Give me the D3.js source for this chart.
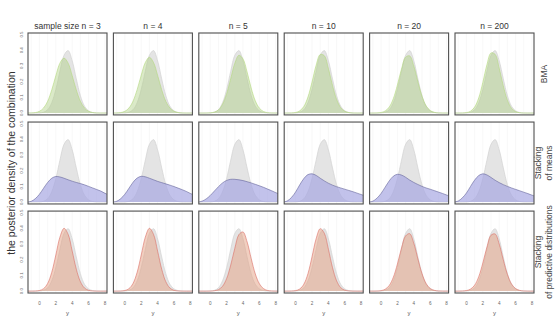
<!DOCTYPE html>
<html>
<head>
<meta charset="utf-8">
<script src="https://cdn.jsdelivr.net/npm/d3@7"></script>
<style>
  body { margin: 0; background: #fff; }
  svg { display: block; font-family: "Liberation Sans", Arial, Helvetica, sans-serif; }
</style>
</head>
<body>
<div id="chart"></div>
<script>
// grid of y values every density is read on //
const xs = [-1.5, -1, -0.5, 0, 0.5, 1, 1.5, 2, 2.5, 3, 3.5, 4, 4.5, 5, 5.5, 6, 6.5, 7, 7.5, 8, 8.5];

const columns = ["sample size n = 3", "n = 4", "n = 5", "n = 10", "n = 20", "n = 200"];
const rows = [["BMA"], ["Stacking", "of means"], ["Stacking", "of predictive distributions"]];
const xTicks = [0, 2, 4, 6, 8];
const yTicks = [0, 0.1, 0.2, 0.3, 0.4, 0.5];

// the true density, same in every panel (grey)
const truth = [0, 0, 0, 0.001, 0.005, 0.021, 0.066, 0.15, 0.267, 0.368, 0.398, 0.333, 0.218, 0.111, 0.044, 0.014, 0.0035, 0.0007, 0, 0, 0];

// BMA
const bma = [
  [0, 0.0007, 0.003, 0.011, 0.032, 0.075, 0.147, 0.238, 0.318, 0.35, 0.318, 0.238, 0.147, 0.075, 0.032, 0.011, 0.003, 0.0007, 0.0001, 0, 0],
  [0, 0.0007, 0.003, 0.011, 0.032, 0.076, 0.149, 0.241, 0.322, 0.355, 0.322, 0.24, 0.148, 0.075, 0.032, 0.011, 0.003, 0.0007, 0.0001, 0, 0],
  [0, 0, 0.0003, 0.0014, 0.006, 0.02, 0.056, 0.123, 0.22, 0.317, 0.368, 0.345, 0.261, 0.159, 0.078, 0.031, 0.01, 0.0026, 0.0006, 0.0001, 0],
  [0, 0, 0.0008, 0.0036, 0.014, 0.042, 0.102, 0.197, 0.304, 0.373, 0.365, 0.284, 0.176, 0.087, 0.034, 0.011, 0.0027, 0.0005, 0, 0, 0],
  [0, 0, 0.0008, 0.0035, 0.013, 0.038, 0.092, 0.179, 0.281, 0.356, 0.364, 0.3, 0.199, 0.107, 0.046, 0.016, 0.0046, 0.001, 0.0002, 0, 0],
  [0, 0, 0.0005, 0.0028, 0.012, 0.038, 0.097, 0.195, 0.308, 0.383, 0.374, 0.286, 0.173, 0.082, 0.031, 0.009, 0.002, 0.0004, 0, 0, 0]
];

// stacking of means
const stackMeans = [
  [0, 0.005, 0.022, 0.05, 0.088, 0.125, 0.152, 0.163, 0.16, 0.152, 0.142, 0.133, 0.125, 0.118, 0.11, 0.1, 0.09, 0.08, 0.07, 0.056, 0.045],
  [0, 0.005, 0.022, 0.05, 0.088, 0.126, 0.153, 0.164, 0.161, 0.152, 0.142, 0.132, 0.124, 0.116, 0.108, 0.099, 0.089, 0.079, 0.068, 0.055, 0.044],
  [0, 0.006, 0.02, 0.042, 0.07, 0.098, 0.122, 0.138, 0.145, 0.145, 0.142, 0.137, 0.13, 0.122, 0.113, 0.104, 0.094, 0.083, 0.072, 0.06, 0.05],
  [0, 0.008, 0.03, 0.065, 0.11, 0.15, 0.175, 0.18, 0.17, 0.152, 0.135, 0.12, 0.108, 0.098, 0.09, 0.082, 0.074, 0.066, 0.057, 0.048, 0.04],
  [0, 0.006, 0.025, 0.055, 0.095, 0.135, 0.165, 0.177, 0.172, 0.158, 0.14, 0.125, 0.112, 0.1, 0.09, 0.082, 0.073, 0.064, 0.055, 0.045, 0.037],
  [0, 0.007, 0.027, 0.058, 0.1, 0.14, 0.169, 0.18, 0.173, 0.157, 0.139, 0.124, 0.111, 0.1, 0.09, 0.081, 0.072, 0.063, 0.054, 0.044, 0.036]
];

// stacking of predictive distributions
const stackPred = [
  [0, 0, 0.0007, 0.0038, 0.0155, 0.049, 0.12, 0.23, 0.344, 0.4, 0.362, 0.255, 0.14, 0.06, 0.02, 0.005, 0.001, 0.0002, 0, 0, 0],
  [0, 0, 0.0007, 0.0038, 0.0155, 0.049, 0.12, 0.23, 0.344, 0.4, 0.362, 0.255, 0.14, 0.06, 0.02, 0.005, 0.001, 0.0002, 0, 0, 0],
  [0, 0, 0, 0.0005, 0.0023, 0.0094, 0.031, 0.08, 0.166, 0.273, 0.36, 0.377, 0.314, 0.208, 0.11, 0.047, 0.016, 0.004, 0.001, 0, 0],
  [0, 0, 0.0007, 0.0033, 0.0136, 0.044, 0.111, 0.219, 0.334, 0.398, 0.369, 0.267, 0.15, 0.066, 0.022, 0.006, 0.0012, 0.0002, 0, 0, 0],
  [0, 0, 0.0006, 0.003, 0.012, 0.036, 0.088, 0.173, 0.275, 0.352, 0.366, 0.305, 0.205, 0.112, 0.049, 0.017, 0.005, 0.001, 0.0002, 0, 0],
  [0, 0, 0.0008, 0.0035, 0.013, 0.038, 0.092, 0.179, 0.281, 0.356, 0.364, 0.3, 0.199, 0.107, 0.046, 0.016, 0.0046, 0.001, 0.0002, 0, 0]
];

const series = [bma, stackMeans, stackPred];
const fills = ["rgba(170, 205, 125, 0.42)", "rgba(165, 165, 225, 0.68)", "rgba(228, 160, 130, 0.5)"];
const strokes = ["#b3d87e", "#65659a", "#db6e66"];

const W = 558, H = 322;

const svg = d3.select("#chart").append("svg")
  .attr("width", W)
  .attr("height", H);

// panel layout //
const col = d3.scaleBand().domain(d3.range(columns.length)).range([28, 534]).paddingInner(0.075);
const row = d3.scaleBand().domain(d3.range(rows.length)).range([33, 293]).paddingInner(0.08);
const pw = col.bandwidth(), ph = row.bandwidth();

const x = d3.scaleLinear().domain([-1.4, 8.25]).range([0, pw]);
const y = d3.scaleLinear().domain([-0.012, 0.51]).range([ph, 0]);

const area = d3.area()
  .x((d, i) => x(xs[i]))
  .y0(y(0))
  .y1(d => y(d))
  .curve(d3.curveCatmullRom.alpha(0.5));
const line = d3.line()
  .x((d, i) => x(xs[i]))
  .y(d => y(d))
  .curve(d3.curveCatmullRom.alpha(0.5));

svg.append("defs").append("clipPath")
  .attr("id", "clip")
  .append("rect")
  .attr("width", pw)
  .attr("height", ph);

rows.forEach((r, j) => {
  columns.forEach((c, i) => {
    const g = svg.append("g")
      .attr("transform", `translate(${col(i)}, ${row(j)})`);

    // faint vertical grid
    g.selectAll(".grid")
      .data(d3.range(-1, 9))
      .join("line")
      .attr("x1", d => x(d)).attr("x2", d => x(d))
      .attr("y1", 0).attr("y2", ph)
      .attr("stroke", "#f4f4f4")
      .attr("stroke-width", 0.6);

    const body = g.append("g").attr("clip-path", "url(#clip)");

    body.append("path")
      .attr("d", area(truth))
      .attr("fill", "#e4e4e4");
    body.append("path")
      .attr("d", line(truth))
      .attr("fill", "none")
      .attr("stroke", "#d3d3d3")
      .attr("stroke-width", 0.7);

    body.append("path")
      .attr("d", area(series[j][i]))
      .attr("fill", fills[j]);
    body.append("path")
      .attr("d", line(series[j][i]))
      .attr("fill", "none")
      .attr("stroke", strokes[j])
      .attr("stroke-width", 0.6);

    // panel border
    g.append("rect")
      .attr("width", pw)
      .attr("height", ph)
      .attr("fill", "none")
      .attr("stroke", "#4f4f4f")
      .attr("stroke-width", 1.1);

    // y ticks only on first column
    if (i === 0) {
      g.selectAll(".yt")
        .data(yTicks)
        .join("text")
        .attr("transform", d => `translate(-5, ${y(d)}) rotate(-90)`)
        .attr("text-anchor", "middle")
        .attr("font-size", 4.4)
        .attr("fill", "#666")
        .text(d => d.toFixed(1));
    }

    // x ticks only on bottom row
    if (j === rows.length - 1) {
      g.selectAll(".xt")
        .data(xTicks)
        .join("text")
        .attr("x", d => x(d))
        .attr("y", ph + 12)
        .attr("text-anchor", "middle")
        .attr("font-size", 4.6)
        .attr("fill", "#666")
        .text(d => d);
      g.append("text")
        .attr("x", pw / 2)
        .attr("y", ph + 22)
        .attr("text-anchor", "middle")
        .attr("font-size", 6)
        .attr("fill", "#555")
        .text("y");
    }

    // column header
    if (j === 0) {
      g.append("text")
        .attr("x", pw / 2)
        .attr("y", -4)
        .attr("text-anchor", "middle")
        .attr("font-size", 8.5)
        .attr("fill", "#333")
        .text(c);
    }
  });

  // row strip labels on the right
  const cy = row(j) + ph / 2;
  r.forEach((t, k) => {
    svg.append("text")
      .attr("transform", `translate(${544 + (k - (r.length - 1) / 2) * 11}, ${cy}) rotate(-90)`)
      .attr("text-anchor", "middle")
      .attr("dy", "0.35em")
      .attr("font-size", 8.5)
      .attr("fill", "#444")
      .text(t);
  });
});

// shared y title
svg.append("text")
  .attr("transform", `translate(11, ${(33 + 293) / 2}) rotate(-90)`)
  .attr("text-anchor", "middle")
  .attr("dy", "0.35em")
  .attr("font-size", 10.5)
  .attr("fill", "#333")
  .text("the posterior density of the combination");
</script>
</body>
</html>
